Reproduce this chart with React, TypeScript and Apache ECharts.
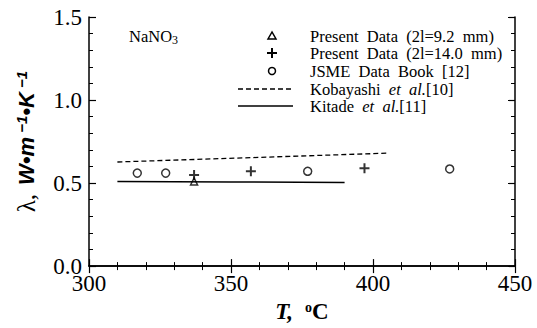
import React, { useEffect, useRef } from "react";
import * as echarts from "echarts";

const triangleData = [[337, 0.51]];
const plusData = [[337, 0.548], [357, 0.571], [397, 0.589]];
const circleData = [[317, 0.56], [327, 0.56], [377, 0.571], [427, 0.585]];
const kobayashiLine = [[310, 0.627], [355, 0.652], [405, 0.68]];
const kitadeLine = [[310, 0.51], [350, 0.507], [390, 0.503]];
const xRange = [300, 450];
const yRange = [0, 1.5];

const legendLabels = [
  "Present  Data  (2l=9.2  mm)",
  "Present  Data  (2l=14.0  mm)",
  "JSME  Data  Book  [12]",
];

const SERIF = "Liberation Serif";
const PLUS = "path://M4,0h2v4h4v2h-4v4h-2v-4h-4v-2h4z";

export default function App() {
  const ref = useRef<HTMLDivElement>(null);
  useEffect(() => {
    const chart = echarts.init(ref.current!, null, { renderer: "svg" });
    const axisCommon = {
      type: "value" as const,
      axisLine: { show: true, lineStyle: { color: "#000", width: 1.5 } },
      axisTick: { show: true, inside: true, length: 7, lineStyle: { color: "#000", width: 1.2 } },
      minorTick: { show: true, splitNumber: 5, length: 4, lineStyle: { color: "#000", width: 1 } },
      splitLine: { show: false },
      minorSplitLine: { show: false },
    };
    const rowY = [36, 53, 71, 89, 106];
    const textX = 310;
    const symX = 272;
    const FS = 16.5;
    const LH = 16;
    chart.setOption({
      animation: false,
      backgroundColor: "#fff",
      textStyle: { fontFamily: SERIF },
      grid: { left: 89, right: 22, top: 17, bottom: 58, containLabel: false },
      xAxis: [
        {
          ...axisCommon,
          min: xRange[0],
          max: xRange[1],
          interval: 50,
          position: "bottom",
          axisLabel: { color: "#000", fontFamily: SERIF, fontSize: 23, margin: 6 },
          name: "{b|T,}    {c|o}{b2|C}",
          nameLocation: "middle",
          nameGap: 33,
          nameTextStyle: {
            rich: {
              b: { fontFamily: SERIF, fontSize: 23, fontWeight: "bold", fontStyle: "italic", color: "#000" },
              c: { fontFamily: SERIF, fontSize: 14, fontWeight: "bold", color: "#000", verticalAlign: "top" },
              b2: { fontFamily: SERIF, fontSize: 23, fontWeight: "bold", color: "#000" },
            },
          },
        },
        {
          ...axisCommon,
          min: xRange[0],
          max: xRange[1],
          interval: 50,
          position: "top",
          axisLabel: { show: false },
        },
      ],
      yAxis: [
        {
          ...axisCommon,
          min: yRange[0],
          max: yRange[1],
          interval: 0.5,
          position: "left",
          axisLabel: {
            color: "#000",
            fontFamily: SERIF,
            fontSize: 23,
            margin: 7,
            formatter: (v: number) => v.toFixed(1),
          },
          name: "{l|λ,}   {w|W•m}{s| −1}{w|•K}{s| −1}",
          nameLocation: "middle",
          nameRotate: 90,
          nameGap: 50,
          nameTextStyle: {
            rich: {
              l: { fontFamily: SERIF, fontSize: 25, color: "#000" },
              w: { fontFamily: "Liberation Sans", fontSize: 22, fontWeight: "bold", fontStyle: "italic", color: "#000" },
              s: { fontFamily: "Liberation Sans", fontSize: 15, fontWeight: "bold", fontStyle: "italic", color: "#000", verticalAlign: "top" },
            },
          },
        },
        {
          ...axisCommon,
          min: yRange[0],
          max: yRange[1],
          interval: 0.5,
          position: "right",
          axisLabel: { show: false },
        },
      ],
      series: [
        {
          type: "line",
          data: kobayashiLine,
          symbol: "none",
          lineStyle: { color: "#000", width: 1.3, type: [5, 3] },
        },
        {
          type: "line",
          data: kitadeLine,
          symbol: "none",
          lineStyle: { color: "#000", width: 1.5 },
        },
        {
          type: "scatter",
          data: circleData,
          symbol: "circle",
          symbolSize: 8,
          itemStyle: { color: "#fff", borderColor: "#000", borderWidth: 1.5 },
        },
        {
          type: "scatter",
          data: triangleData,
          symbol: "triangle",
          symbolSize: 7,
          itemStyle: { color: "#fff", borderColor: "#000", borderWidth: 1.5 },
        },
        {
          type: "scatter",
          data: plusData,
          symbol: PLUS,
          symbolSize: 10,
          itemStyle: { color: "#000" },
        },
      ],
      graphic: [
        {
          type: "text",
          x: 129,
          y: rowY[0],
          style: {
            text: "NaNO{s|3}",
            fontFamily: SERIF,
            fontSize: FS,
            fill: "#000",
            verticalAlign: "middle",
            rich: { s: { fontFamily: SERIF, fontSize: 12, verticalAlign: "bottom", padding: [8, 0, 0, 0] } },
          },
        },
        {
          type: "polygon",
          shape: { points: [[symX, rowY[0] - 4], [symX - 4, rowY[0] + 3], [symX + 4, rowY[0] + 3]] },
          style: { fill: "#fff", stroke: "#000", lineWidth: 1.5 },
        },
        { type: "rect", shape: { x: symX - 5, y: rowY[1] - 1, width: 10, height: 2 }, style: { fill: "#000" } },
        { type: "rect", shape: { x: symX - 1, y: rowY[1] - 5, width: 2, height: 10 }, style: { fill: "#000" } },
        { type: "circle", shape: { cx: symX, cy: rowY[2], r: 3.5 }, style: { fill: "#fff", stroke: "#000", lineWidth: 1.5 } },
        {
          type: "line",
          shape: { x1: 238, y1: rowY[3], x2: 293, y2: rowY[3] },
          style: { stroke: "#000", lineWidth: 1.3, lineDash: [5, 3] },
        },
        {
          type: "line",
          shape: { x1: 238, y1: rowY[4], x2: 293, y2: rowY[4] },
          style: { stroke: "#000", lineWidth: 1.5 },
        },
        ...legendLabels.map((t, i) => ({
          type: "text",
          x: textX,
          y: rowY[i],
          style: { text: t, fontFamily: SERIF, fontSize: FS, lineHeight: LH, fill: "#000", verticalAlign: "middle" },
        })),
        {
          type: "text",
          x: textX,
          y: rowY[3],
          style: {
            text: "Kobayashi  {i|et  al.}[10]",
            fontFamily: SERIF,
            fontSize: FS,
            lineHeight: LH,
            fill: "#000",
            verticalAlign: "middle",
            rich: { i: { fontFamily: SERIF, fontSize: FS, lineHeight: LH, fontStyle: "italic" } },
          },
        },
        {
          type: "text",
          x: textX,
          y: rowY[4],
          style: {
            text: "Kitade  {i|et  al.}[11]",
            fontFamily: SERIF,
            fontSize: FS,
            lineHeight: LH,
            fill: "#000",
            verticalAlign: "middle",
            rich: { i: { fontFamily: SERIF, fontSize: FS, lineHeight: LH, fontStyle: "italic" } },
          },
        },
      ],
    });
    return () => chart.dispose();
  }, []);
  return (
    <div
      ref={ref}
      style={{ position: "fixed", left: 0, top: 0, width: 537, height: 328, background: "#fff" }}
    />
  );
}
